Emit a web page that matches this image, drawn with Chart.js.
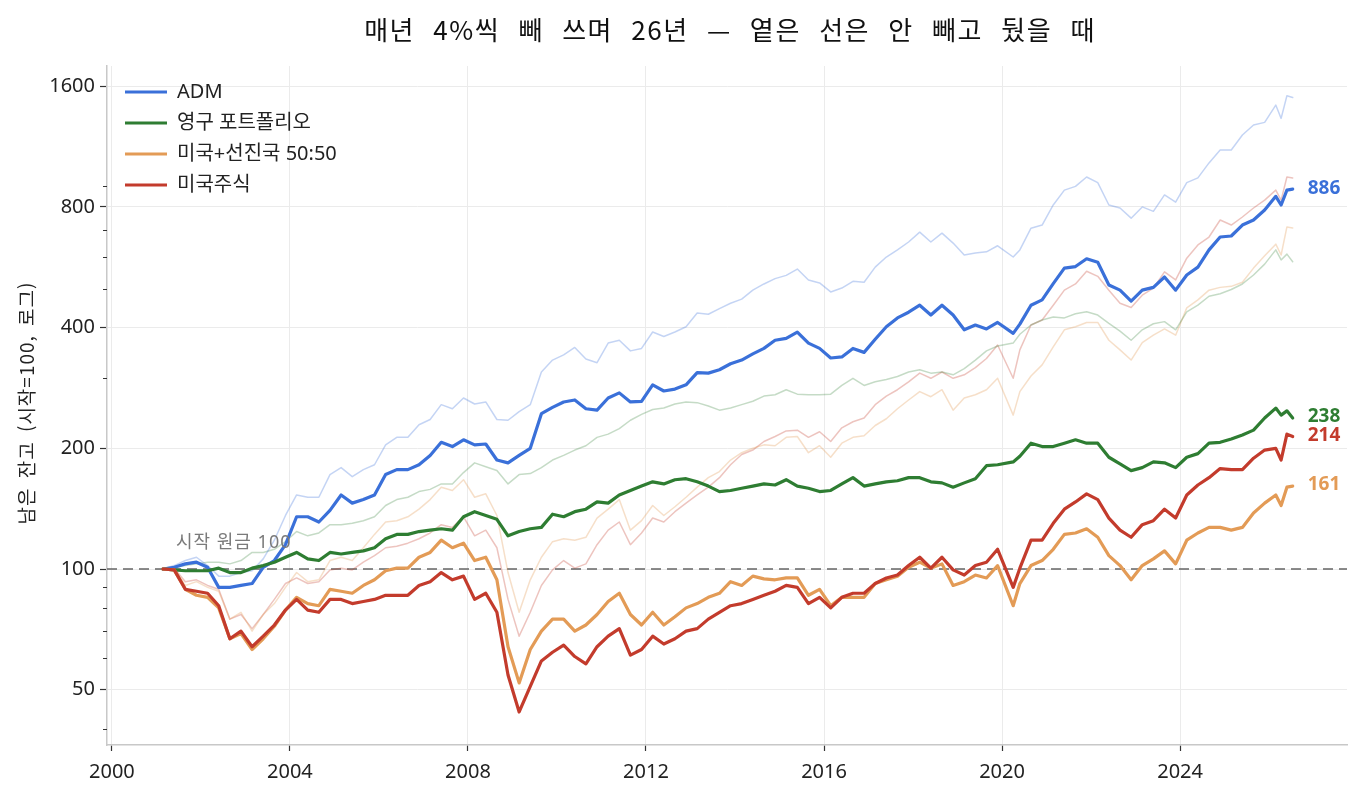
<!DOCTYPE html>
<html lang="ko">
<head>
<meta charset="utf-8">
<title>매년 4%씩 빼 쓰며 26년</title>
<script src="https://cdn.jsdelivr.net/npm/chart.js@4.4.1/dist/chart.umd.min.js"></script>
<style>
  html, body { margin: 0; padding: 0; background: #fff; overflow: hidden; }
  #wrap { width: 1363px; height: 795px; position: relative; }
</style>
</head>
<body>
<div id="wrap"><canvas id="chart"></canvas></div>
<script>
// quarterly points (decimal years)
const years = [
  2001.15, 2001.40, 2001.65, 2001.90,
  2002.15, 2002.40, 2002.65, 2002.90,
  2003.15, 2003.40, 2003.65, 2003.90,
  2004.15, 2004.40, 2004.65, 2004.90,
  2005.15, 2005.40, 2005.65, 2005.90,
  2006.15, 2006.40, 2006.65, 2006.90,
  2007.15, 2007.40, 2007.65, 2007.90,
  2008.15, 2008.40, 2008.65, 2008.90,
  2009.15, 2009.40, 2009.65, 2009.90,
  2010.15, 2010.40, 2010.65, 2010.90,
  2011.15, 2011.40, 2011.65, 2011.90,
  2012.15, 2012.40, 2012.65, 2012.90,
  2013.15, 2013.40, 2013.65, 2013.90,
  2014.15, 2014.40, 2014.65, 2014.90,
  2015.15, 2015.40, 2015.65, 2015.90,
  2016.15, 2016.40, 2016.65, 2016.90,
  2017.15, 2017.40, 2017.65, 2017.90,
  2018.15, 2018.40, 2018.65, 2018.90,
  2019.15, 2019.40, 2019.65, 2019.90,
  2020.25, 2020.40, 2020.65, 2020.90,
  2021.15, 2021.40, 2021.65, 2021.90,
  2022.15, 2022.40, 2022.65, 2022.90,
  2023.15, 2023.40, 2023.65, 2023.90,
  2024.15, 2024.40, 2024.65, 2024.90,
  2025.15, 2025.40, 2025.65, 2025.90,
  2026.15, 2026.27, 2026.40, 2026.53
];

// with 4% yearly withdrawal
const adm = [
  100, 101, 103, 104,   101, 90, 90, 91,   92, 101, 105, 115,   135, 135, 131, 140,
  153, 146, 149, 153,   172, 177, 177, 182,   192, 207, 202, 210,   204, 205, 187, 184,
  192, 200, 244, 253,   261, 264, 251, 249,   267, 275, 261, 262,   288, 278, 281, 288,
  309, 308, 314, 325,   332, 344, 355, 372,   376, 390, 366, 355,   336, 338, 355, 347,
  374, 402, 423, 437,   455, 430, 455, 430,   395, 406, 397, 412,   387, 408, 455, 469,
  515, 563, 568, 594,   582, 511, 496, 466,   496, 504, 535, 496,   541, 566, 625, 673,
  677, 721, 742, 786,   850, 809, 881, 886
];
const perm = [
  100, 99.5, 99, 99,   99, 100.5, 98, 98,   100.5, 102, 104, 107,   110, 106, 105, 110,
  109, 110, 111, 113,   119, 122, 122, 124,   125, 126, 125, 135,   139, 136, 133, 121,
  124, 126, 127, 137,   135, 139, 141, 147,   146, 153, 157, 161,   165, 163, 167, 168,
  165, 161, 156, 157,   159, 161, 163, 162,   167, 161, 159, 156,   157, 163, 169, 161,
  163, 165, 166, 169,   169, 165, 164, 160,   164, 168, 181, 182,   185, 191, 206, 202,
  202, 206, 210, 206,   206, 190, 183, 176,   179, 185, 184, 179,   190, 194, 206, 207,
  211, 216, 222, 238,   252, 242, 248, 238
];
const mix = [
  100, 99.5, 89, 86,   85, 80, 67, 69,   63, 67, 72, 79,   85, 82, 81, 89,
  88, 87, 91, 94,   99, 100.5, 100.5, 107,   110, 118, 113, 116,   105, 107, 94, 64,
  52, 63, 70, 75,   75, 70, 72.5, 77,   83, 87, 77, 72.5,   78, 72.5, 76, 80,
  82, 85, 87, 93,   91, 96, 94.5, 94,   95, 95, 86, 89,   81, 85, 85, 85,
  92, 94, 96, 101,   104, 100.5, 103, 91,   93, 96.6, 95, 102,   81, 92, 102, 105,
  112, 122, 123, 126,   120, 108, 102, 94,   102, 106, 111, 103,   118, 123, 127, 127,
  125, 127, 138, 146,   153, 144, 160, 161
];
const us = [
  100, 99.5, 89, 88,   87, 81, 67, 70,   64, 68, 72.5, 79,   84, 79, 78, 84,
  84, 82, 83, 84,   86, 86, 86, 91,   93, 98, 94, 96,   84, 87, 78, 54.4,
  44, 51, 59, 62,   64.6, 60.5, 58, 64,   68, 71, 61, 63,   68, 65, 67, 70,
  71, 75, 78, 81,   82, 84, 86, 88,   91, 90, 82, 85,   80, 85, 87, 87,
  92, 95, 96.6, 102,   107, 100.5, 107, 99.5,   96.6, 102, 104, 112,   90, 100.5, 118, 118,
  130, 141, 147, 154,   149, 134, 125, 120,   129, 132, 141, 134,   153, 162, 169, 178,
  177, 177, 189, 198,   200, 187, 217, 214
];

// same portfolios, nothing withdrawn (faint lines)
const admKeep = [
  100, 102, 105, 107,   102, 96, 96, 98,   99, 106, 118, 136,   153, 151, 151, 172,
  179, 170, 177, 182,   204, 213, 213, 229,   236, 257, 251, 267,   258, 261, 236, 235,
  247, 257, 310, 332,   342, 357, 334, 327,   366, 372, 350, 355,   390, 380, 390, 402,
  435, 432, 446, 460,   471, 496, 514, 530,   540, 560, 526, 517,   491, 502, 522, 519,
  566, 600, 625, 654,   692, 654, 688, 650,   607, 614, 618, 640,   600, 625, 708, 721,
  809, 881, 900, 950,   920, 809, 795, 750,   800, 780, 857, 822,   920, 945, 1030, 1109,
  1109, 1209, 1281, 1300,   1436, 1330, 1515, 1500
];
const permKeep = [
  100, 101, 102, 103,   104, 104, 103, 105,   110, 110, 112, 117,   124, 121, 123, 129,
  129, 130, 132, 135,   144, 149, 151, 156,   158, 163, 163, 174,   184, 180, 176, 163,
  172, 173, 179, 187,   192, 198, 203, 213,   217, 224, 235, 243,   250, 252, 258, 261,
  260, 255, 249, 252,   257, 262, 270, 272,   280, 273, 272, 272,   273, 287, 299, 287,
  293, 297, 302, 310,   314, 308, 310, 305,   316, 332, 350, 360,   366, 385, 406, 418,
  425, 423, 433, 438,   430, 410, 392, 372,   395, 409, 414, 395,   438, 455, 479, 486,
  498, 514, 541, 576,   625, 590, 610, 584
];
const mixKeep = [
  100, 100.5, 91, 93,   90, 88, 75, 78,   70, 77, 82, 90,   98, 93, 94, 105,
  107, 105, 113, 122,   131, 132, 135, 141,   149, 160, 157, 167,   151, 154, 136, 98,
  78, 94, 107, 117,   119, 118, 120, 134,   141, 149, 125, 132,   144, 136, 143, 151,
  160, 169, 175, 187,   195, 200, 204, 203,   213, 214, 195, 203,   190, 206, 213, 215,
  228, 237, 251, 264,   277, 269, 280, 249,   267, 272, 280, 299,   242, 277, 303, 323,
  358, 395, 402, 412,   412, 372, 352, 332,   367, 383, 397, 383,   448, 469, 496, 504,
  507, 519, 563, 604,   646, 607, 713, 709
];
const usKeep = [
  100, 100.5, 93, 94,   91, 89, 75, 77,   71, 77, 84, 92,   95, 92, 93, 99.5,
  100.5, 99.5, 104, 108,   113, 114, 116, 119,   123, 129, 127, 135,   121, 125, 113, 84,
  68, 78, 91, 99.5,   105, 100.5, 103, 115,   125, 131, 115, 123,   134, 131, 139, 146,
  153, 160, 169, 182,   193, 198, 208, 214,   221, 222, 213, 220,   208, 225, 233, 238,
  257, 270, 280, 293,   308, 299, 310, 299,   305, 318, 335, 362,   299, 352, 406, 418,
  455, 496, 514, 553,   537, 496, 460, 449,   482, 502, 551, 526,   596, 643, 673, 742,
  721, 755, 795, 832,   881, 832, 950, 945
];

const seriesNames = ["ADM", "영구 포트폴리오", "미국+선진국 50:50", "미국주식"];
const xTicks = [2000, 2004, 2008, 2012, 2016, 2020, 2024];
const yTicks = [50, 100, 200, 400, 800, 1600];
const yMinorTicks = [40, 60, 70, 80, 90, 300, 500, 600, 700, 900];

const titleText = "매년 4%씩 빼 쓰며 26년 — 옅은 선은 안 빼고 뒀을 때";
const yLabelText = "남은 잔고 (시작=100, 로그)";
const startNote = "시작 원금 100";

const strong = ["#3a70d9", "#2e7d32", "#e39b56", "#c33b2c"];
const pale = ["rgba(58,112,217,0.3)", "rgba(46,125,50,0.28)", "rgba(227,155,86,0.32)", "rgba(195,59,44,0.3)"];

const toPoints = arr => arr.map((v, i) => ({ x: years[i], y: v }));

const withdrawn = [adm, perm, mix, us];
const kept = [admKeep, permKeep, mixKeep, usKeep];

const datasets = [];
withdrawn.forEach((arr, i) => {
  datasets.push({
    label: seriesNames[i],
    data: toPoints(arr),
    borderColor: strong[i],
    backgroundColor: strong[i],
    borderWidth: 3.2,
    order: 3 - i // red drawn last, on top
  });
});
kept.forEach((arr, i) => {
  datasets.push({
    label: seriesNames[i] + " (안 빼고)",
    data: toPoints(arr),
    borderColor: pale[i],
    backgroundColor: pale[i],
    borderWidth: 1.5,
    order: 4 + i
  });
});

Chart.defaults.font.family = '"Noto Sans", "Noto Sans CJK KR", sans-serif';
Chart.defaults.color = "#222";

const decor = {
  id: "decor",
  afterLayout(chart) {
    // legend sits inside the plot, top-left
    const lg = chart.legend, a = chart.chartArea;
    const dx = a.left + 7 - lg.left, dy = a.top + 5 - lg.top;
    lg.left += dx; lg.right += dx;
    lg.top += dy; lg.bottom += dy;
  },
  beforeDatasetsDraw(chart) {
    const { ctx, chartArea: a, scales: { y } } = chart;
    const py = y.getPixelForValue(100);
    ctx.save();
    ctx.strokeStyle = "#666";
    ctx.lineWidth = 1.6;
    ctx.setLineDash([10, 6]);
    ctx.beginPath();
    ctx.moveTo(a.left, py);
    ctx.lineTo(a.right, py);
    ctx.stroke();
    ctx.restore();
  },
  afterDatasetsDraw(chart) {
    const { ctx, scales: { x, y } } = chart;
    ctx.save();
    // start note
    ctx.font = '18px "Noto Sans", "Noto Sans CJK KR"';
    ctx.fillStyle = "#7a7a7a";
    ctx.textAlign = "left";
    ctx.textBaseline = "middle";
    if ("letterSpacing" in ctx) ctx.letterSpacing = "1px";
    ctx.fillText(startNote, x.getPixelForValue(2001.44), y.getPixelForValue(116));
    if ("letterSpacing" in ctx) ctx.letterSpacing = "0px";
    // end values
    ctx.font = 'bold 19px "Noto Sans"';
    withdrawn.forEach((arr, i) => {
      const meta = chart.getDatasetMeta(i);
      const last = meta.data[meta.data.length - 1];
      ctx.fillStyle = strong[i];
      ctx.fillText(String(Math.round(arr[arr.length - 1])), last.x + 15, last.y - 1);
    });
    ctx.restore();
  },
  afterDraw(chart) {
    const { ctx, chartArea: a, scales: { y } } = chart;
    ctx.save();
    // minor ticks on the log axis
    ctx.strokeStyle = "#333";
    ctx.lineWidth = 1;
    yMinorTicks.forEach(v => {
      const py = Math.round(y.getPixelForValue(v)) + 0.5;
      ctx.beginPath();
      ctx.moveTo(a.left - 4, py);
      ctx.lineTo(a.left, py);
      ctx.stroke();
    });
    // title
    ctx.fillStyle = "#111";
    ctx.font = '26px "Noto Sans CJK KR"';
    ctx.textAlign = "center";
    ctx.textBaseline = "middle";
    if ("letterSpacing" in ctx) ctx.letterSpacing = "1.5px";
    if ("wordSpacing" in ctx) ctx.wordSpacing = "11px";
    ctx.fillText(titleText, (a.left + a.right) / 2 + 3, 30);
    // y axis title
    ctx.fillStyle = "#222";
    ctx.font = '19px "Noto Sans CJK KR"';
    if ("letterSpacing" in ctx) ctx.letterSpacing = "1px";
    if ("wordSpacing" in ctx) ctx.wordSpacing = "4px";
    ctx.translate(27, 403);
    ctx.rotate(-Math.PI / 2);
    ctx.fillText(yLabelText, 0, 0);
    ctx.restore();
  }
};

const ctx = document.getElementById("chart").getContext("2d");
const chart = new Chart(ctx, {
  type: "line",
  data: { datasets },
  plugins: [decor],
  options: {
    responsive: true,
    maintainAspectRatio: false,
    animation: false,
    layout: { padding: { left: 0, right: 16, top: 66, bottom: 0 } },
    elements: {
      point: { radius: 0, hoverRadius: 0 },
      line: { tension: 0, borderJoinStyle: "round", borderCapStyle: "round" }
    },
    plugins: {
      tooltip: { enabled: false },
      legend: {
        position: "chartArea",
        align: "start",
        labels: {
          boxWidth: 42,
          boxHeight: 3,
          padding: 11,
          color: "#222",
          font: { size: 20 },
          generateLabels(chart) {
            return Chart.defaults.plugins.legend.labels.generateLabels(chart)
              .filter(item => item.datasetIndex < 4)
              .map(item => ({ ...item, fillStyle: item.strokeStyle, lineWidth: 0 }))
              .sort((p, q) => p.datasetIndex - q.datasetIndex);
          }
        }
      }
    },
    scales: {
      x: {
        type: "linear",
        min: 1999.89,
        max: 2027.75,
        afterBuildTicks: s => { s.ticks = xTicks.map(v => ({ value: v })); },
        afterFit: s => { s.height = 50; },
        ticks: {
          callback: v => String(v),
          color: "#222",
          font: { size: 20 },
          padding: 9,
          maxRotation: 0,
          autoSkip: false
        },
        grid: { color: "#ebebeb", lineWidth: 1, tickColor: "#333", tickLength: 6, tickWidth: 1.2 },
        border: { color: "#c8c8c8", width: 1.5 }
      },
      y: {
        type: "logarithmic",
        min: 36.4,
        max: 1797,
        afterBuildTicks: s => { s.ticks = yTicks.map(v => ({ value: v })); },
        afterFit: s => { s.width = 107; },
        ticks: {
          callback: v => String(v),
          color: "#222",
          font: { size: 20 },
          padding: 5,
          autoSkip: false
        },
        grid: { color: "#ebebeb", lineWidth: 1, tickColor: "#333", tickLength: 7, tickWidth: 1.2 },
        border: { color: "#c8c8c8", width: 1.5 }
      }
    }
  }
});
</script>
</body>
</html>
